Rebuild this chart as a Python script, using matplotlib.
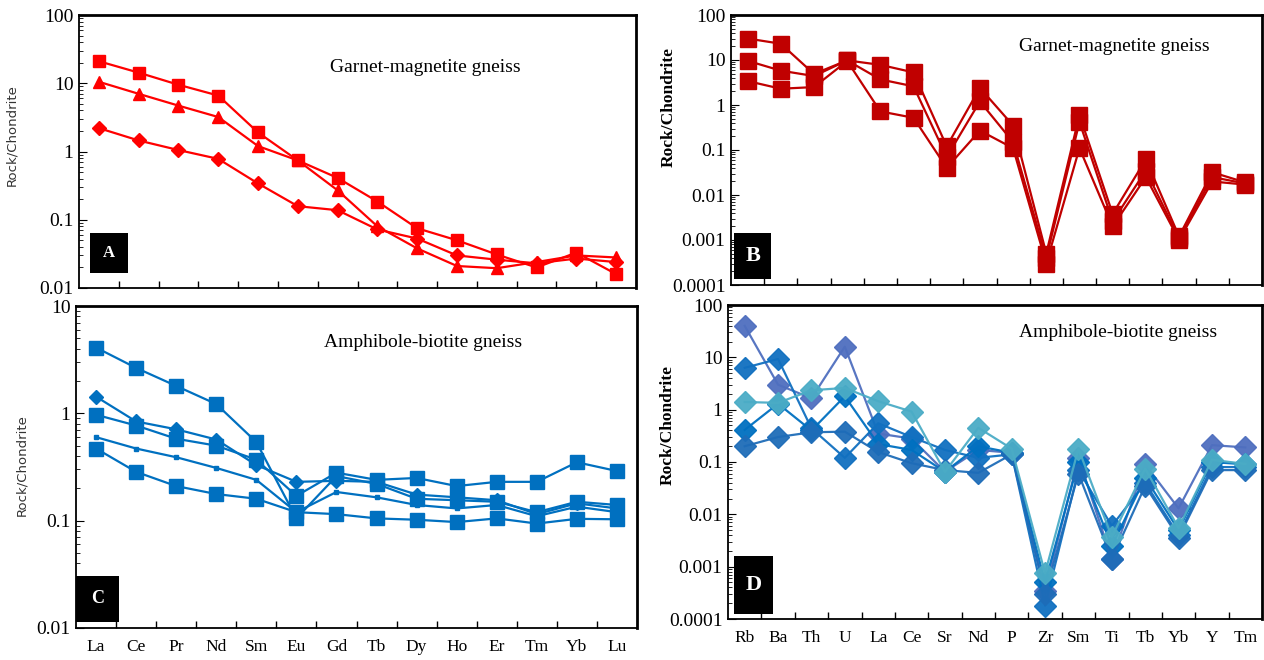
import matplotlib.pyplot as plt
import matplotlib.patches as mpatches
from matplotlib.ticker import FuncFormatter, LogLocator, NullFormatter

plt.rcParams['font.family'] = 'serif'
plt.rcParams['font.serif'] = ['Liberation Serif', 'DejaVu Serif']

ree = ['La', 'Ce', 'Pr', 'Nd', 'Sm', 'Eu', 'Gd', 'Tb', 'Dy', 'Ho', 'Er', 'Tm', 'Yb', 'Lu']
spider = ['Rb', 'Ba', 'Th', 'U', 'La', 'Ce', 'Sr', 'Nd', 'P', 'Zr', 'Sm', 'Ti', 'Tb', 'Yb', 'Y', 'Tm']

# A - garnet-magnetite gneiss, REE
a_square = [21, 14.3, 9.5, 6.6, 1.9, 0.74, 0.41, 0.185, 0.075, 0.050, 0.031, 0.020, 0.033, 0.016]
a_triangle = [10.5, 7.0, 4.7, 3.2, 1.2, 0.74, 0.27, 0.08, 0.038, 0.021, 0.0195, 0.024, 0.030, 0.028]
a_diamond = [2.2, 1.45, 1.05, 0.78, 0.34, 0.158, 0.138, 0.072, 0.053, 0.030, 0.026, 0.023, 0.027, 0.024]

# B - garnet-magnetite gneiss, spider
b_s1 = [30, 23, 4.9, 9.8, 7.8, 5.3, 0.12, 2.4, 0.35, 0.0005, 0.6, 0.0038, 0.062, 0.0012, 0.032, 0.019]
b_s2 = [9.6, 5.8, 4.4, 9.8, 3.7, 2.6, 0.07, 1.2, 0.15, 0.0004, 0.42, 0.0026, 0.035, 0.0011, 0.025, 0.018]
b_s3 = [3.4, 2.3, 2.5, 9.5, 0.72, 0.52, 0.04, 0.27, 0.11, 0.0003, 0.11, 0.002, 0.025, 0.001, 0.020, 0.017]

# C - amphibole-biotite gneiss, REE
c_s1 = [4.1, 2.65, 1.8, 1.22, 0.54, 0.105, 0.26, 0.22, 0.16, 0.155, 0.15, 0.12, 0.15, 0.14]
c_s2 = [1.43, 0.84, 0.71, 0.57, 0.33, 0.23, 0.235, 0.23, 0.175, 0.165, 0.155, 0.115, 0.145, 0.13]
c_s3 = [0.97, 0.77, 0.58, 0.50, 0.37, 0.17, 0.28, 0.24, 0.25, 0.21, 0.23, 0.23, 0.35, 0.29]
c_s4 = [0.60, 0.47, 0.39, 0.31, 0.24, 0.12, 0.185, 0.165, 0.14, 0.13, 0.14, 0.11, 0.135, 0.12]
c_s5 = [0.47, 0.285, 0.21, 0.177, 0.16, 0.12, 0.115, 0.105, 0.102, 0.097, 0.105, 0.094, 0.104, 0.103]

# D - amphibole-biotite gneiss, spider
d_s1 = [40, 3.0, 1.65, 16, 0.35, 0.28, 0.065, 0.17, 0.15, 0.00035, 0.12, 0.0014, 0.09, 0.013, 0.21, 0.19]
d_s2 = [1.4, 1.35, 2.35, 2.6, 1.45, 0.92, 0.065, 0.45, 0.18, 0.00075, 0.18, 0.0037, 0.075, 0.0055, 0.11, 0.092]
d_s3 = [6.3, 9.3, 0.44, 0.12, 0.55, 0.30, 0.17, 0.12, 0.14, 0.00018, 0.07, 0.006, 0.04, 0.004, 0.08, 0.08]
d_s4 = [0.41, 1.3, 0.40, 1.8, 0.22, 0.17, 0.065, 0.20, 0.15, 0.0005, 0.10, 0.0025, 0.05, 0.005, 0.10, 0.09]
d_s5 = [0.20, 0.30, 0.37, 0.38, 0.155, 0.095, 0.07, 0.062, 0.14, 0.0003, 0.06, 0.0014, 0.035, 0.0036, 0.07, 0.07]

W, H = 1264, 660


def box(px_left, px_top, px_right, px_bottom):
    return [px_left / W, 1 - px_bottom / H, (px_right - px_left) / W, (px_bottom - px_top) / H]


def style(ax, cats, ymin, ymax, show_labels):
    n = len(cats)
    ax.set_yscale('log')
    ax.set_ylim(ymin, ymax)
    ax.set_xlim(-0.5, n - 0.5)
    if show_labels:
        ax.set_xticks(range(n))
        ax.set_xticklabels(cats)
    else:
        ax.set_xticks([])
    ax.set_xticks([i + 0.5 for i in range(n - 1)], minor=True)
    ax.tick_params(axis='x', which='major', length=0, pad=8, labelsize=12.5)
    ax.tick_params(axis='x', which='minor', direction='in', length=5, width=1)
    ax.yaxis.set_major_locator(LogLocator(base=10))
    ax.yaxis.set_minor_locator(LogLocator(base=10, subs=range(2, 10), numticks=20))
    ax.yaxis.set_major_formatter(FuncFormatter(lambda v, p: '%g' % v))
    ax.yaxis.set_minor_formatter(NullFormatter())
    ax.tick_params(axis='y', which='major', direction='in', length=6, labelsize=14, pad=4)
    ax.tick_params(axis='y', which='minor', direction='in', length=3)
    for s in ['left', 'bottom']:
        ax.spines[s].set_linewidth(1.3)
    for s in ['top', 'right']:
        ax.spines[s].set_linewidth(2)


def panel_tag(ax, letter, rect, size):
    x, y, w, h = rect
    ax.add_patch(mpatches.Rectangle((x, y), w, h, transform=ax.transAxes,
                                    facecolor='black', edgecolor='none', zorder=5))
    ax.text(x + w / 2, y + h / 2, letter, transform=ax.transAxes, color='white',
            fontsize=size, fontweight='bold', ha='center', va='center', zorder=6)


fig = plt.figure(figsize=(12.64, 6.6), dpi=100)

# ---- A ----
axA = fig.add_axes(box(79, 15, 636, 288))
red = '#FF0000'
x = range(len(ree))
axA.plot(x, a_square, color=red, lw=1.6, marker='s', ms=9)
axA.plot(x, a_triangle, color=red, lw=1.6, marker='^', ms=9)
axA.plot(x, a_diamond, color=red, lw=1.6, marker='D', ms=7)
style(axA, ree, 0.01, 100, False)
axA.text(0.622, 0.806, 'Garnet-magnetite gneiss', transform=axA.transAxes,
         fontsize=14, ha='center', va='center')
panel_tag(axA, 'A', (0.02, 0.055, 0.068, 0.147), 12)
fig.text(12 / W, 1 - 135 / H, 'Rock/Chondrite', rotation=90, ha='center', va='center',
         family='DejaVu Sans', fontsize=9.5, color='#333333')

# ---- B ----
axB = fig.add_axes(box(731, 15, 1262, 285))
dred = '#C00000'
x = range(len(spider))
for s in [b_s1, b_s2, b_s3]:
    axB.plot(x, s, color=dred, lw=1.6, marker='s', ms=11)
style(axB, spider, 0.0001, 100, False)
axB.text(0.721, 0.885, 'Garnet-magnetite gneiss', transform=axB.transAxes,
         fontsize=14, ha='center', va='center')
panel_tag(axB, 'B', (0.006, 0.022, 0.07, 0.171), 16)
fig.text(669 / W, 1 - 107 / H, 'Rock/Chondrite', rotation=90, ha='center', va='center',
         fontsize=12.5, fontweight='bold')

# ---- C ----
axC = fig.add_axes(box(76, 306, 637, 628))
blue = '#0070C0'
x = range(len(ree))
axC.plot(x, c_s1, color=blue, lw=1.6, marker='s', ms=9.5)
axC.plot(x, c_s2, color=blue, lw=1.6, marker='D', ms=7)
axC.plot(x, c_s3, color=blue, lw=1.6, marker='s', ms=9.5)
axC.plot(x, c_s4, color=blue, lw=1.6, marker='s', ms=3.5)
axC.plot(x, c_s5, color=blue, lw=1.6, marker='s', ms=9.5)
style(axC, ree, 0.01, 10, True)
axC.text(0.619, 0.888, 'Amphibole-biotite gneiss', transform=axC.transAxes,
         fontsize=14, ha='center', va='center')
panel_tag(axC, 'C', (0.0, 0.019, 0.077, 0.143), 13)
fig.text(22 / W, 1 - 465 / H, 'Rock/Chondrite', rotation=90, ha='center', va='center',
         family='DejaVu Sans', fontsize=9.5, color='#333333')

# ---- D ----
axD = fig.add_axes(box(728, 305, 1262, 619))
x = range(len(spider))
series_d = [d_s1, d_s3, d_s4, d_s5, d_s2]
colors_d = ['#4F6FBF', '#1170C0', '#0070C0', '#1E6CB8', '#4BACC6']
for s, c in zip(series_d, colors_d):
    axD.plot(x, s, color=c, lw=1.6, marker='D', ms=11, markeredgecolor=c, alpha=0.95)
style(axD, spider, 0.0001, 100, True)
axD.text(0.73, 0.911, 'Amphibole-biotite gneiss', transform=axD.transAxes,
         fontsize=14, ha='center', va='center')
panel_tag(axD, 'D', (0.011, 0.016, 0.073, 0.185), 16)
fig.text(668 / W, 1 - 425 / H, 'Rock/Chondrite', rotation=90, ha='center', va='center',
         fontsize=12.5, fontweight='bold')

fig.savefig('out.png', dpi=100)
